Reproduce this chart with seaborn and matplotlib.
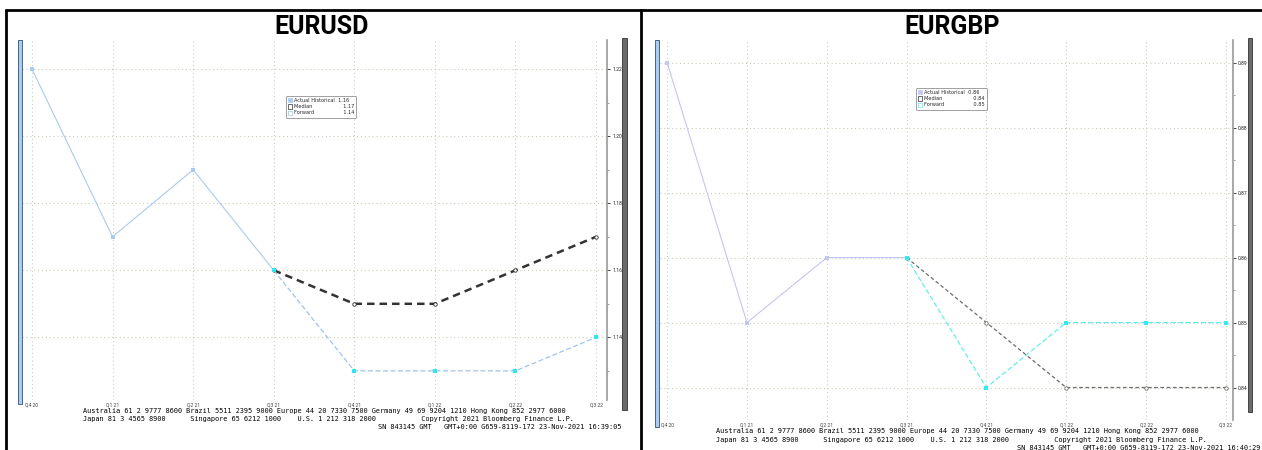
import numpy as np
import pandas as pd
import seaborn as sns
import matplotlib.pyplot as plt
from matplotlib.patches import Rectangle, Patch
from matplotlib.lines import Line2D

# Quarter labels on the x axis
quarters = ['Q4 20', 'Q1 21', 'Q2 21', 'Q3 21', 'Q4 21', 'Q1 22', 'Q2 22', 'Q3 22']

# EURUSD: history Q4 20..Q3 21, median / forward Q3 21..Q3 22
usd_actual = [1.22, 1.17, 1.19, 1.16]
usd_median = [1.16, 1.15, 1.15, 1.16, 1.17]
usd_forward = [1.16, 1.13, 1.13, 1.13, 1.14]
usd_legend = ['1.16', '1.17', '1.14']

# EURGBP
gbp_actual = [0.89, 0.85, 0.86, 0.86]
gbp_median = [0.86, 0.85, 0.84, 0.84, 0.84]
gbp_forward = [0.86, 0.84, 0.85, 0.85, 0.85]
gbp_legend = ['0.86', '0.84', '0.85']

W, H = 1262, 450
sns.set_style("white")
plt.rcParams['font.family'] = ['Roboto', 'Liberation Sans', 'DejaVu Sans']

fig = plt.figure(figsize=(W / 100, H / 100), dpi=100)


def fbox(x0, y0, x1, y1):
    # pixel box (top-left origin) -> figure rect
    return [x0 / W, 1 - y1 / H, (x1 - x0) / W, (y1 - y0) / H]


def rect(x0, y0, x1, y1, **kw):
    fig.patches.append(Rectangle((x0 / W, 1 - y1 / H), (x1 - x0) / W, (y1 - y0) / H,
                                 transform=fig.transFigure, figure=fig, **kw))


def panel(box, title, tx, actual, median, forward, cols, ylim, major, minor,
          leg_vals, leg_xy, strip, bar):
    ax = fig.add_axes(fbox(*box))
    xa = np.arange(len(actual))
    xf = np.arange(3, 3 + len(median))
    sns.lineplot(x=xa, y=actual, ax=ax, color=cols['act'], lw=0.8,
                 marker='s', markersize=2.2, markeredgewidth=0)
    sns.lineplot(x=xf, y=median, ax=ax, color=cols['med'], lw=cols['med_lw'],
                 linestyle=(0, (3, 2)), marker='o', markersize=2.5,
                 markerfacecolor='white', markeredgecolor=cols['med'], markeredgewidth=0.6)
    sns.lineplot(x=xf, y=forward, ax=ax, color=cols['fwd'], lw=0.9,
                 linestyle=(0, (4, 2)), marker='s', markersize=2.5,
                 markerfacecolor=cols['fwd_m'], markeredgewidth=0)
    sns.lineplot(x=xf[1:], y=forward[1:], ax=ax, color=cols['fwd_m'], lw=0,
                 marker='s', markersize=2.5, markeredgewidth=0)

    ax.set_xticks(np.arange(len(quarters)))
    ax.set_xticklabels(quarters)
    ax.set_ylim(*ylim)
    ax.set_yticks(major)
    ax.set_yticks(minor, minor=True)
    ax.set_yticklabels([f'{v:.2f}' for v in major])
    ax.yaxis.tick_right()
    ax.tick_params(axis='y', which='major', direction='out', length=2.5, width=0.6,
                   labelsize=3.6, pad=1.2, colors='#222')
    ax.tick_params(axis='y', which='minor', direction='out', length=1.2, width=0.5, colors='#777')
    ax.tick_params(axis='x', length=1.2, width=0.5, labelsize=3.6, pad=0.5, colors='#444')
    ax.grid(True, which='major', linestyle=(0, (1, 2.5)), color='#c9cfb6', lw=0.8)
    for s in ['top', 'left', 'bottom']:
        ax.spines[s].set_visible(False)
    ax.spines['right'].set_color('#9a9a9a')
    ax.spines['right'].set_linewidth(1.2)
    ax.set_ylabel('')

    handles = [Patch(facecolor=cols['act'], edgecolor=cols['act'], lw=0.5),
               Patch(facecolor='none', edgecolor='#333', lw=0.5),
               Patch(facecolor='none', edgecolor=cols['fwd'], lw=0.5)]
    labels = [f'Actual Historical  {leg_vals[0]}', f'Median{" " * 19}{leg_vals[1]}',
              f'Forward{" " * 18}{leg_vals[2]}']
    leg = ax.legend(handles, labels, loc='upper left',
                    bbox_to_anchor=(leg_xy[0] / W, 1 - leg_xy[1] / H),
                    bbox_transform=fig.transFigure, frameon=True,
                    handlelength=0.7, handleheight=0.9, handletextpad=0.4,
                    borderpad=0.5, labelspacing=0.25, fancybox=True,
                    prop={'family': 'DejaVu Sans', 'size': 3.6})
    leg.get_frame().set_edgecolor('#888')
    leg.get_frame().set_linewidth(0.7)

    fig.text(tx / W, 1 - 27 / H, title, ha='center', va='center',
             fontsize=18, fontweight='bold', color='black')
    rect(*strip, facecolor='#a9cdf4', edgecolor='#33506e', lw=0.6)
    rect(*bar, facecolor='#6b6b6b', edgecolor='#333', lw=0.6)
    return ax


usd_cols = {'act': '#aacbef', 'med': '#333333', 'med_lw': 1.8,
            'fwd': '#9fc4ee', 'fwd_m': '#2ee6f2'}
gbp_cols = {'act': '#c5c5f2', 'med': '#6e6e6e', 'med_lw': 0.9,
            'fwd': '#5ef0f0', 'fwd_m': '#30ecf0'}

ax1 = panel((22, 40, 607, 400), 'EURUSD', 322, usd_actual, usd_median, usd_forward,
            usd_cols, (1.1213, 1.2287), [1.14, 1.16, 1.18, 1.20, 1.22],
            [1.13, 1.15, 1.17, 1.19, 1.21],
            usd_legend, (283, 93), (18, 40, 22, 404), (622, 38, 627, 410))
ax1.set_xlim(-0.124, 7.136)

ax2 = panel((660, 40, 1233, 420), 'EURGBP', 952, gbp_actual, gbp_median, gbp_forward,
            gbp_cols, (0.835, 0.8935), [0.84, 0.85, 0.86, 0.87, 0.88, 0.89],
            [0.845, 0.855, 0.865, 0.875, 0.885],
            gbp_legend, (913, 85), (655, 40, 659, 427), (1248, 38, 1252, 412))
ax2.set_xlim(-0.09, 7.09)

# panel borders
fig.add_artist(Line2D([6 / W, 1], [1 - 10 / H] * 2, color='black', lw=2, transform=fig.transFigure))
fig.add_artist(Line2D([6 / W] * 2, [0, 1 - 10 / H], color='black', lw=2, transform=fig.transFigure))
fig.add_artist(Line2D([641 / W] * 2, [0, 1 - 10 / H], color='black', lw=2, transform=fig.transFigure))

# Bloomberg footer
line1 = ("Australia 61 2 9777 8600 Brazil 5511 2395 9000 Europe 44 20 7330 7500 "
         "Germany 49 69 9204 1210 Hong Kong 852 2977 6000")
line2 = ("Japan 81 3 4565 8900" + " " * 6 + "Singapore 65 6212 1000" + " " * 4 +
         "U.S. 1 212 318 2000" + " " * 11 + "Copyright 2021 Bloomberg Finance L.P.")
mono = dict(family='DejaVu Sans Mono', fontsize=4.95, va='center', color='black')
fig.text(83 / W, 1 - 411 / H, line1, ha='left', **mono)
fig.text(83 / W, 1 - 419 / H, line2, ha='left', **mono)
fig.text(621 / W, 1 - 427 / H, "SN 843145 GMT   GMT+0:00 G659-8119-172 23-Nov-2021 16:39:05",
         ha='right', **mono)
fig.text(716 / W, 1 - 431 / H, line1, ha='left', **mono)
fig.text(716 / W, 1 - 440 / H, line2, ha='left', **mono)
fig.text(1260 / W, 1 - 448 / H, "SN 843145 GMT   GMT+0:00 G659-8119-172 23-Nov-2021 16:40:29",
         ha='right', **mono)

fig.savefig('out.png', dpi=100)
